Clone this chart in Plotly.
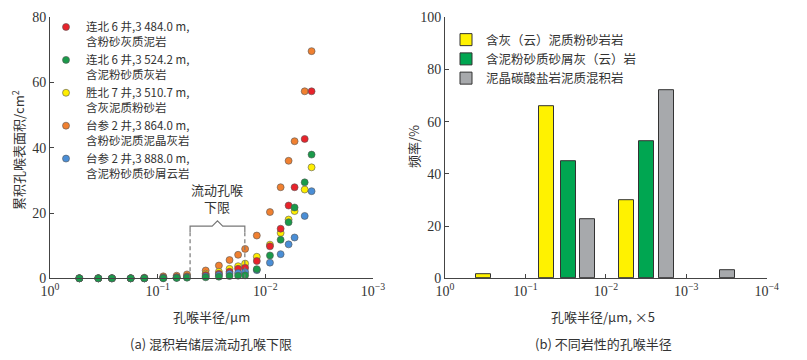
import numpy as np
import plotly.graph_objects as go

# page body has an 8 px margin; the figure is sized to fit the 807x360 window
OFF = 8
W, H = 807 - OFF, 360 - OFF

# ---------------- data: panel (a) ----------------
radius_um = [0.534, 0.356, 0.266, 0.178, 0.133, 0.0887, 0.0666, 0.0534, 0.0358, 0.0270,
             0.0215, 0.0179, 0.0154, 0.0120, 0.00906, 0.00721, 0.00608, 0.00535, 0.00431, 0.00372]
area_lb6_3484 = [0, 0, 0, 0, 0, 0.2, 0.3, 0.5, 1.0, 1.4, 2.0, 2.9, 3.2, 5.3, 9.8, 15.2, 22.3, 27.9, 42.7, 57.3]
area_lb6_3524 = [0, 0, 0, 0, 0, 0, 0.1, 0.2, 0.3, 0.5, 0.7, 0.8, 0.9, 2.8, 7.0, 11.8, 17.2, 21.7, 29.4, 37.9]
area_sb7_3510 = [0, 0, 0, 0, 0, 0.2, 0.3, 0.6, 1.4, 2.0, 2.9, 3.7, 4.5, 6.6, 10.3, 13.9, 18.0, 20.6, 27.2, 34.0]
area_ts2_3864 = [0, 0, 0, 0, 0.2, 0.6, 0.8, 1.2, 2.4, 3.9, 5.6, 7.2, 9.0, 13.1, 20.3, 27.9, 36.0, 42.0, 57.3, 69.6]
area_ts2_3888 = [0, 0, 0, 0, 0, 0.1, 0.2, 0.3, 0.6, 1.0, 1.4, 1.6, 1.9, 2.5, 4.8, 7.4, 10.4, 12.5, 19.1, 26.7]

flow_limit_radius = [0.05, 0.0155]   # bracket ends (µm)
bracket_level = 16.0
bracket_peak = 17.6

# ---------------- data: panel (b) ----------------
yellow_radius = [0.334, 0.0545, 0.00552]
yellow_freq = [1.7, 66.0, 30.0]
green_radius = [0.0295, 0.00314]
green_freq = [44.8, 52.6]
gray_radius = [0.0167, 0.00176, 0.000308]
gray_freq = [22.5, 72.0, 3.1]

xticks_a = [1, 0.1, 0.01, 0.001]
xticks_b = [1, 0.1, 0.01, 0.001, 0.0001]
xticklabels_a = ["10<sup>0</sup>", "10<sup>−1</sup>", "10<sup>−2</sup>", "10<sup>−3</sup>"]
xticklabels_b = ["10<sup>0</sup>", "10<sup>−1</sup>", "10<sup>−2</sup>", "10<sup>−3</sup>", "10<sup>−4</sup>"]

FONT = "Liberation Serif, Noto Sans CJK SC, serif"
CJK = "Noto Sans CJK SC, Liberation Serif"
AX = "#444444"
TXT = "#333333"

def px(x):
    return (x - OFF) / W

def py(y):
    return 1 - (y - OFF) / H

fig = go.Figure()

series = [
    ("台参 2 井,3 864.0 m,<br>含粉砂泥质泥晶灰岩", area_ts2_3864, "#F08030", 4),
    ("胜北 7 井,3 510.7 m,<br>含灰泥质粉砂岩", area_sb7_3510, "#FFEE00", 3),
    ("连北 6 井,3 484.0 m,<br>含粉砂灰质泥岩", area_lb6_3484, "#E8232B", 1),
    ("台参 2 井,3 888.0 m,<br>含泥粉砂质砂屑云岩", area_ts2_3888, "#4A8ED6", 5),
    ("连北 6 井,3 524.2 m,<br>含泥粉砂质灰岩", area_lb6_3524, "#1A9A4A", 2),
]
for name, vals, col, rank in series:
    fig.add_trace(go.Scatter(
        x=radius_um, y=vals, mode="markers", name=name, legendrank=rank,
        marker=dict(size=7, color=col, line=dict(width=0.6, color="#555555")),
        cliponaxis=False, xaxis="x", yaxis="y", legend="legend",
    ))

# flow pore-throat lower limit bracket
r_lo, r_hi = flow_limit_radius
r_mid = float(np.sqrt(r_lo * r_hi))
r_pk1 = r_mid * 1.12
r_pk2 = r_mid / 1.12
fig.add_trace(go.Scatter(
    x=[r_lo, r_lo, r_pk1, r_mid, r_pk2, r_hi, r_hi],
    y=[bracket_level - 1.8, bracket_level, bracket_level, bracket_peak, bracket_level, bracket_level, bracket_level - 1.8],
    mode="lines", line=dict(color="#777777", width=1.2), showlegend=False,
    hoverinfo="skip", xaxis="x", yaxis="y",
))
for r in flow_limit_radius:
    fig.add_trace(go.Scatter(
        x=[r, r], y=[0, bracket_level - 1.8], mode="lines",
        line=dict(color="#777777", width=1.2, dash="4px,3px"), showlegend=False,
        hoverinfo="skip", xaxis="x", yaxis="y",
    ))

fig.add_annotation(x=np.log10(r_mid), y=bracket_peak + 1.0, xref="x", yref="y",
                   text="流动孔喉<br>下限", showarrow=False, yanchor="bottom",
                   font=dict(family=CJK, size=13, color=TXT))

# ---------------- panel (b) bars ----------------
bar_w = 0.186
for name, rad, freq, col, rank in [
    ("含灰（云）泥质粉砂岩岩", yellow_radius, yellow_freq, "#FFF200", 1),
    ("含泥粉砂质砂屑灰（云）岩", green_radius, green_freq, "#00A651", 2),
    ("泥晶碳酸盐岩泥质混积岩", gray_radius, gray_freq, "#A7A9AC", 3),
]:
    fig.add_trace(go.Bar(
        x=np.log10(rad), y=freq, width=bar_w, name=name, legendrank=rank,
        marker=dict(color=col, line=dict(color="#333333", width=1)),
        xaxis="x2", yaxis="y2", legend="legend2",
    ))

common_axis = dict(showline=True, linecolor=AX, linewidth=1, showgrid=False, zeroline=False,
                   ticks="inside", ticklen=4, tickcolor=AX, tickwidth=1, automargin=False,
                   tickfont=dict(family=FONT, size=14, color=TXT))

ydom = [py(278.3), py(17.2)]
fig.update_layout(
    template="none",
    width=W, height=H, margin=dict(l=0, r=0, t=0, b=0, pad=0),
    paper_bgcolor="white", plot_bgcolor="white",
    barmode="overlay", bargap=0,
    font=dict(family=FONT, color=TXT),
    xaxis=dict(type="log", range=[0, -3], domain=[px(50), px(373)], anchor="y",
               tickvals=xticks_a, ticktext=xticklabels_a, **common_axis),
    yaxis=dict(range=[0, 80], domain=ydom, anchor="x", tickvals=[0, 20, 40, 60, 80], **common_axis),
    xaxis2=dict(range=[0, -4], domain=[px(445), px(766.7)], anchor="y2",
                tickvals=list(np.log10(xticks_b)), ticktext=xticklabels_b, **common_axis),
    yaxis2=dict(range=[0, 100], domain=ydom, anchor="x2", tickvals=[0, 20, 40, 60, 80, 100], **common_axis),
    legend=dict(x=px(46), y=py(13), xanchor="left", yanchor="top", bgcolor="rgba(0,0,0,0)",
                font=dict(family=CJK, size=11.5, color=TXT), valign="top",
                itemwidth=30, tracegroupgap=0),
    legend2=dict(x=px(446), y=py(25), xanchor="left", yanchor="top", bgcolor="rgba(0,0,0,0)",
                 font=dict(family=CJK, size=12.5, color=TXT), itemwidth=30),
    showlegend=True,
)

annos = [
    (18, 150, "累积孔喉表面积/cm<sup>2</sup>", -90, 13),
    (413, 147, "频率/%", -90, 13),
    (211, 316, "孔喉半径/μm", 0, 13),
    (603, 316, "孔喉半径/μm, ×5", 0, 13),
    (211, 343, "(a) 混积岩储层流动孔喉下限", 0, 13),
    (603, 343, "(b) 不同岩性的孔喉半径", 0, 13),
]
for x, y, t, ang, sz in annos:
    fig.add_annotation(x=px(x), y=py(y), xref="paper", yref="paper", text=t, showarrow=False,
                       textangle=ang, xanchor="center", yanchor="middle",
                       font=dict(family=CJK, size=sz, color=TXT))

fig.write_html("out.html")
